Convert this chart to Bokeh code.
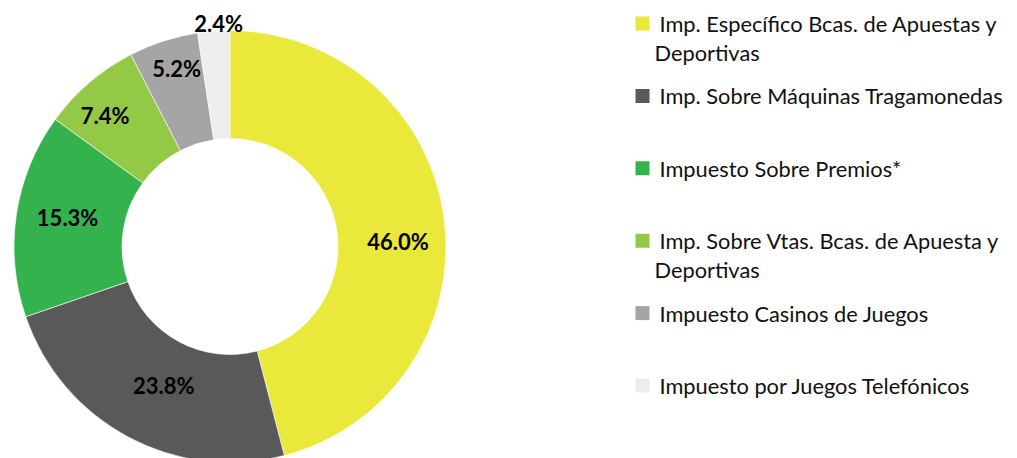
import math
import textwrap
from bokeh.plotting import figure
from bokeh.models import Range1d, ColumnDataSource
from bokeh.core.properties import value
from bokeh.embed import file_html
from bokeh.resources import INLINE

# ---- data ----
categories = [
    "Imp. Específico Bcas. de Apuestas y Deportivas",
    "Imp. Sobre Máquinas Tragamonedas",
    "Impuesto Sobre Premios*",
    "Imp. Sobre Vtas. Bcas. de Apuesta y Deportivas",
    "Impuesto Casinos de Juegos",
    "Impuesto por Juegos Telefónicos",
]
shares = [46.0, 23.8, 15.3, 7.4, 5.2, 2.4]
colors = ["#EAE83B", "#595959", "#33B24E", "#93C947", "#A5A5A5", "#EDEDED"]

# ---- layout (screenshot pixel coordinates: x = px, y = -py) ----
W, H = 1009, 458
CX, CY = 229.5, -246.0
R_OUT, R_IN = 216, 108
label_r = [168, 154, 165, 181, 186, 223]          # label distance from centre
label_nudge = [-5.7, 2.8, -1.7, 3.0, -1.3, -1.4]  # degrees, label placement tweak
FONT = "Lato"

p = figure(width=W, height=H, output_backend="svg", toolbar_location=None,
           x_range=Range1d(0, W), y_range=Range1d(-H, 0),
           min_border=0)
p.axis.visible = False
p.grid.visible = False
p.outline_line_color = None
p.background_fill_color = "white"

total = sum(shares)
starts, ends, lx, ly, labels = [], [], [], [], []
cum = 0.0
for i, s in enumerate(shares):
    f0 = cum / total
    f1 = (cum + s) / total
    cum += s
    starts.append(math.pi / 2 - 2 * math.pi * f1)
    ends.append(math.pi / 2 - 2 * math.pi * f0)
    m = (f0 + f1) / 2
    th = math.pi / 2 - 2 * math.pi * m + math.radians(label_nudge[i])
    lx.append(CX + label_r[i] * math.cos(th))
    ly.append(CY + label_r[i] * math.sin(th))
    labels.append(f"{s:.1f}%")

src = ColumnDataSource(dict(start=starts, end=ends, color=colors,
                            x=[CX] * len(shares), y=[CY] * len(shares)))
p.annular_wedge(x="x", y="y", inner_radius=R_IN, outer_radius=R_OUT,
                inner_radius_units="screen", outer_radius_units="screen",
                start_angle="start", end_angle="end", fill_color="color",
                line_color="white", line_width=0.6, source=src)

p.text(x=lx, y=ly, text=labels, text_font=value(FONT), text_font_style="bold",
       text_font_size="22px", text_align="center", text_baseline="middle",
       text_color="black")

# ---- legend (drawn manually) ----
sq_x, sq_y = [], []
tx, ty, tt = [], [], []
for i, name in enumerate(categories):
    yc = -(23 + i * 72.4)
    sq_x.append(642)
    sq_y.append(yc)
    for j, line in enumerate(textwrap.wrap(name, 35)):
        tx.append(659 if j == 0 else 654)
        ty.append(yc - j * 29)
        tt.append(line)

p.rect(x=sq_x, y=sq_y, width=14, height=14, width_units="screen",
       height_units="screen", fill_color=colors, line_color=None)
p.text(x=tx, y=ty, text=tt, text_font=value(FONT), text_font_size="21.8px",
       text_align="left", text_baseline="middle", text_color="#111111")

open("out.html", "w").write(file_html(p, INLINE))
